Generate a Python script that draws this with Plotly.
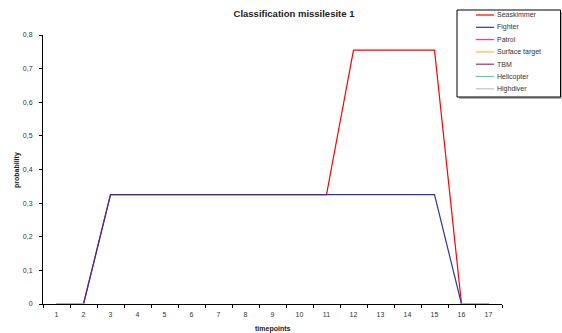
import plotly.graph_objects as go

timepoints = [str(i) for i in range(1, 18)]
series_names = ["Seaskimmer", "Fighter", "Patrol", "Surface target", "TBM", "Helicopter", "Highdiver"]
N = None
seaskimmer = [0, 0, 0.325, 0.325, 0.325, 0.325, 0.325, 0.325, 0.325, 0.325, 0.325, 0.755, 0.755, 0.755, 0.755, 0, 0]
fighter = [0, 0, 0.325, 0.325, 0.325, 0.325, 0.325, 0.325, 0.325, 0.325, 0.325, 0.325, 0.325, 0.325, 0.325, 0, 0]
patrol = [0, 0, N, N, N, N, N, N, N, N, N, N, N, N, N, 0, 0]
surface_target = [0, 0, N, N, N, N, N, N, N, N, N, N, N, N, N, 0, 0]
tbm = [0, 0, N, N, N, N, N, N, N, N, N, N, N, N, N, 0, 0]
helicopter = [0, 0, N, N, N, N, N, N, N, N, N, N, N, N, N, 0, 0]
highdiver = [0, 0, N, N, N, N, N, N, N, N, N, N, N, N, N, 0, 0]
colors = ["#FF0000", "#333399", "#FF3399", "#FFB84D", "#993366", "#66CC99", "#D0C4CA"]
y_ticks = [0, 0.1, 0.2, 0.3, 0.4, 0.5, 0.6, 0.7, 0.8]
y_ticklabels = ["0", "0,1", "0,2", "0,3", "0,4", "0,5", "0,6", "0,7", "0,8"]

data = [seaskimmer, fighter, patrol, surface_target, tbm, helicopter, highdiver]

# plot area in pixels
L, R, T, B = 43, 502, 35, 304
W, H = 562, 333


def px(x):
    return (x - L) / (R - L)


def py(y):
    return (B - y) / (B - T)


fig = go.Figure()
for name, vals, c in zip(series_names, data, colors):
    fig.add_trace(go.Scatter(x=timepoints, y=vals, mode="lines", name=name, cliponaxis=False,
                             connectgaps=False, line=dict(color=c, width=1.2), showlegend=False))

font_family = "Liberation Sans, Arial, sans-serif"

shapes = []
annotations = []
# legend box with shadow
shapes.append(dict(type="rect", xref="paper", yref="paper", x0=px(459), x1=px(562), y0=py(99), y1=py(12),
                   line=dict(width=0), fillcolor="#b4b4b4", layer="above"))
shapes.append(dict(type="rect", xref="paper", yref="paper", x0=px(457), x1=px(560.5), y0=py(97), y1=py(10),
                   line=dict(color="black", width=1), fillcolor="white", layer="above"))
legend_y = [15, 27.3, 39.6, 51.9, 64.2, 76.5, 88.8]
legend_colors = ["#FF0000", "#333399", "#FF3399", "#FFB84D", "#993366", "#66CC99", "#C0C0C0"]
for name, c, yy in zip(series_names, legend_colors, legend_y):
    shapes.append(dict(type="line", xref="paper", yref="paper", x0=px(476), x1=px(494), y0=py(yy), y1=py(yy),
                       line=dict(color=c, width=1.2), layer="above"))
    annotations.append(dict(text=name, xref="paper", yref="paper", x=px(495), y=py(yy), xanchor="left",
                            yanchor="middle", showarrow=False, font=dict(size=7, color="#333333")))

annotations.append(dict(text="<b>timepoints</b>", xref="paper", yref="paper", x=px(272.5), y=py(329),
                        xanchor="center", yanchor="middle", showarrow=False,
                        font=dict(size=7, color="#222222")))
annotations.append(dict(text="<b>probability</b>", xref="paper", yref="paper", x=px(17), y=py(170),
                        xanchor="center", yanchor="middle", showarrow=False, textangle=-90,
                        font=dict(size=7, color="#222222")))

fig.update_layout(
    width=W, height=H, autosize=False,
    margin=dict(l=L, r=W - R, t=T, b=H - B),
    paper_bgcolor="white", plot_bgcolor="white",
    font=dict(family=font_family, size=7, color="#333333"),
    title=dict(text="<b>Classification missilesite 1</b>", x=294 / W, xanchor="center",
               y=1 - 14 / H, yanchor="middle", font=dict(size=9.5, color="#222222")),
    xaxis=dict(type="category", range=[-0.5, 16.5], showline=True, linecolor="black", linewidth=1,
               ticks="outside", tickson="boundaries", ticklen=3, tickcolor="black", layer="below traces",
               ticklabelstandoff=4, showgrid=False, zeroline=False, automargin=False),
    yaxis=dict(range=[0, 0.8], showline=True, linecolor="black", linewidth=1,
               ticks="outside", ticklen=3, tickcolor="black", tickvals=y_ticks, ticktext=y_ticklabels,
               ticklabelstandoff=5, showgrid=False, zeroline=False, automargin=False),
    shapes=shapes,
    annotations=annotations,
    showlegend=False,
)

fig.write_html("out.html")
